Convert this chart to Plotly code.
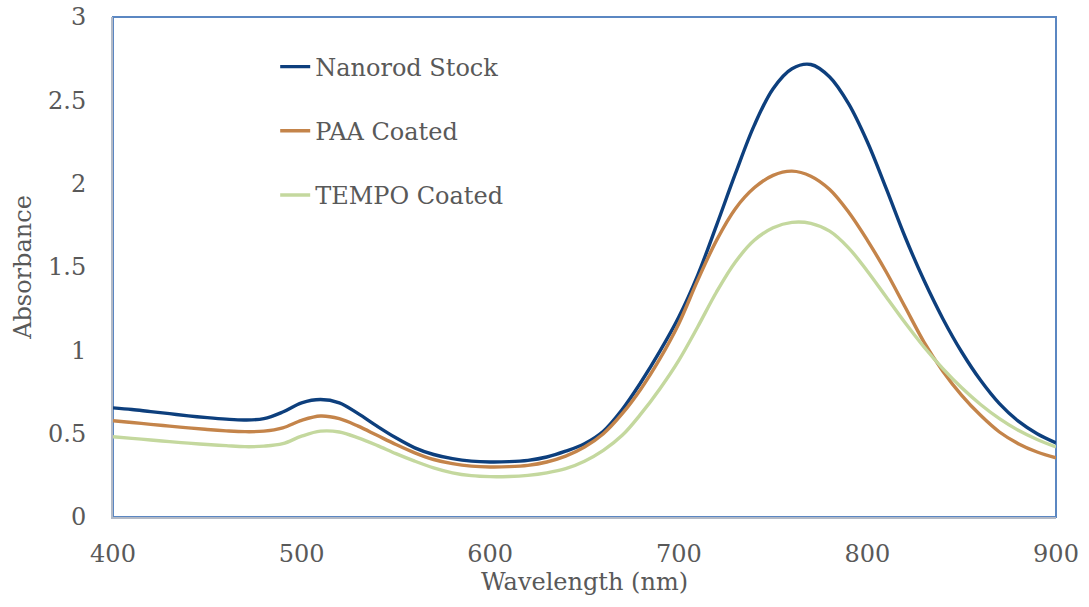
import plotly.graph_objects as go

wavelength = list(range(400, 901, 10))

nanorod_stock = [
    0.655, 0.645, 0.632, 0.620, 0.607, 0.596, 0.587, 0.582, 0.590, 0.630,
    0.685, 0.705, 0.685, 0.620, 0.545, 0.475, 0.415, 0.375, 0.350, 0.335,
    0.330, 0.332, 0.340, 0.360, 0.395, 0.440, 0.515, 0.645, 0.810, 0.995,
    1.200, 1.450, 1.750, 2.060, 2.350, 2.570, 2.690, 2.715, 2.640, 2.480,
    2.250, 1.970, 1.680, 1.420, 1.190, 0.990, 0.820, 0.680, 0.575, 0.500,
    0.445,
]

paa_coated = [
    0.578, 0.567, 0.556, 0.545, 0.535, 0.525, 0.517, 0.512, 0.515, 0.535,
    0.580, 0.606, 0.590, 0.545, 0.490, 0.435, 0.385, 0.345, 0.320, 0.305,
    0.300, 0.302, 0.310, 0.330, 0.365, 0.420, 0.500, 0.620, 0.770, 0.950,
    1.160, 1.420, 1.660, 1.850, 1.975, 2.050, 2.075, 2.045, 1.965, 1.830,
    1.660, 1.470, 1.260, 1.050, 0.875, 0.730, 0.610, 0.510, 0.440, 0.390,
    0.355,
]

tempo_coated = [
    0.482, 0.472, 0.462, 0.452, 0.443, 0.435, 0.428, 0.422, 0.425, 0.440,
    0.485, 0.515, 0.510, 0.475, 0.430, 0.380, 0.335, 0.295, 0.265, 0.248,
    0.242, 0.243, 0.250, 0.265, 0.290, 0.335, 0.400, 0.490, 0.620, 0.770,
    0.940, 1.140, 1.350, 1.530, 1.660, 1.735, 1.768, 1.762, 1.715, 1.615,
    1.475, 1.320, 1.165, 1.020, 0.890, 0.775, 0.675, 0.590, 0.520, 0.465,
    0.420,
]

series_names = ["Nanorod Stock", "PAA Coated", "TEMPO Coated"]
series_colors = ["#0D3F7D", "#C4844A", "#C4D89E"]
series_values = [nanorod_stock, paa_coated, tempo_coated]

FONT = "DejaVu Serif"
TXT = "#595959"

fig = go.Figure()
for name, color, vals in zip(series_names, series_colors, series_values):
    fig.add_trace(go.Scatter(
        x=wavelength, y=vals, name=name, mode="lines",
        line=dict(color=color, width=3.4, shape="spline", smoothing=1.0),
        legendgroup=name,
    ))

fig.update_layout(
    width=1089, height=607,
    margin=dict(l=113, r=33, t=17, b=90),
    paper_bgcolor="white", plot_bgcolor="white",
    font=dict(family=FONT, size=24, color=TXT),
    showlegend=True,
    legend=dict(
        x=0.172, y=0.945, xanchor="left", yanchor="top",
        bgcolor="rgba(0,0,0,0)", font=dict(family=FONT, size=24, color=TXT),
        tracegroupgap=30,
    ),
    xaxis=dict(
        range=[400, 900], dtick=100, tick0=400, showgrid=False, zeroline=False,
        showline=True, linecolor="#B3BAC7", linewidth=2, automargin=False,
        ticks="", ticklabelstandoff=14, ticklabeloverflow="allow",
        tickfont=dict(family=FONT, size=24, color=TXT),
        title=dict(text="Wavelength (nm)", standoff=2,
                   font=dict(family=FONT, size=24, color=TXT)),
    ),
    yaxis=dict(
        range=[0, 3], dtick=0.5, tick0=0, showgrid=False, zeroline=False,
        showline=True, linecolor="#B3BAC7", linewidth=2, automargin=False,
        ticks="", ticklabelstandoff=20, ticklabeloverflow="allow",
        tickfont=dict(family=FONT, size=24, color=TXT),
        title=dict(text="Absorbance", standoff=10,
                   font=dict(family=FONT, size=24, color=TXT)),
    ),
    shapes=[dict(
        type="rect", xref="x domain", yref="y domain", x0=0, x1=1, y0=0, y1=1,
        line=dict(color="#5B87C2", width=2), layer="below",
    )],
)

fig.write_html(
    "out.html",
    config={"displayModeBar": False},
    post_script="document.body.style.margin='0';",
)
